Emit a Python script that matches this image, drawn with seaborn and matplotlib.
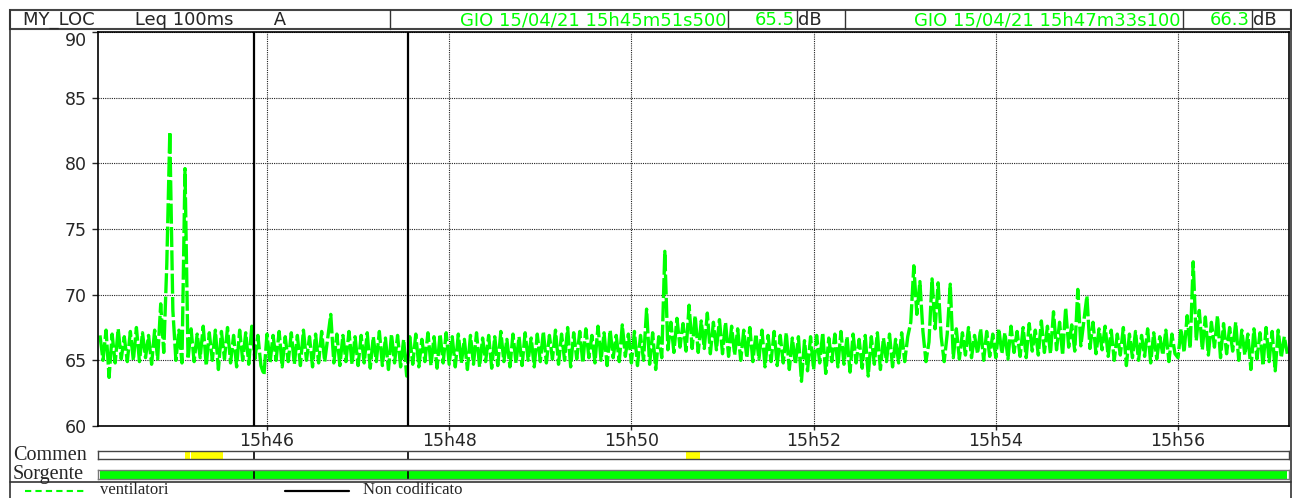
import pandas as pd
import seaborn as sns
import matplotlib.pyplot as plt
import matplotlib.dates as mdates
from matplotlib.patches import Rectangle

# --- Data: Leq 100ms A, one reading every 2 s from 15:44:10 ---
lvl_1544 = [66.9, 65.0, 67.3, 63.7, 67.0, 64.8, 67.4, 65.1, 66.8, 64.9, 67.2, 65.0, 67.5,
            64.9, 67.1, 65.2, 66.9, 64.7, 67.3, 65.1, 69.3, 65.6, 72.3, 82.4, 68.8]
lvl_1545 = [65.0, 67.3, 64.8, 79.6, 65.1, 67.4, 64.9, 67.0, 65.2, 67.6, 64.6, 67.1, 65.0, 67.3, 64.3,
            67.2, 65.1, 67.5, 64.8, 66.9, 64.5, 67.3, 65.0, 67.1, 64.7, 67.6, 65.1, 66.9, 64.6, 63.9]
lvl_1546 = [67.0, 64.8, 66.9, 65.0, 67.2, 64.5, 66.8, 64.9, 67.1, 64.7, 66.9, 64.6, 67.3, 65.0, 66.8,
            64.5, 67.0, 64.8, 67.2, 64.9, 66.7, 68.5, 64.8, 67.0, 64.6, 66.9, 64.9, 67.2, 64.7, 66.8]
lvl_1547 = [64.6, 66.9, 64.8, 67.1, 64.4, 66.8, 64.9, 67.2, 64.6, 66.7, 64.3, 67.0, 64.8, 66.9, 64.5,
            66.6, 63.8, 66.8, 64.7, 67.0, 64.5, 66.6, 64.9, 67.1, 64.6, 66.8, 64.4, 67.0, 64.8, 67.1]
lvl_1548 = [64.7, 66.8, 64.5, 67.0, 64.8, 66.6, 64.3, 66.9, 64.7, 67.1, 64.5, 66.7, 64.9, 66.9, 64.4,
            66.8, 64.6, 67.2, 64.9, 66.6, 64.5, 67.0, 64.8, 66.8, 64.6, 67.1, 65.0, 66.7, 64.5, 67.0]
lvl_1549 = [64.9, 67.2, 64.8, 66.9, 65.1, 67.3, 64.7, 67.0, 65.0, 67.5, 64.5, 67.1, 65.1, 67.2, 64.8,
            67.4, 65.2, 66.9, 64.8, 67.6, 65.0, 67.1, 64.6, 67.3, 65.2, 66.9, 64.9, 67.7, 65.3, 67.0]
lvl_1550 = [64.8, 67.2, 64.6, 66.9, 65.0, 68.9, 64.7, 67.1, 64.3, 66.8, 65.2, 73.3, 65.8, 67.9, 65.6,
            68.2, 66.0, 67.8, 65.7, 69.2, 65.9, 68.4, 65.6, 68.0, 65.9, 68.6, 65.5, 67.9, 65.8, 68.1]
lvl_1551 = [65.5, 67.9, 65.3, 67.6, 65.4, 67.4, 65.0, 67.3, 65.2, 67.5, 64.9, 67.0, 65.1, 67.3, 64.5,
            66.9, 64.9, 67.2, 64.6, 66.9, 64.8, 67.1, 64.3, 66.7, 64.7, 66.8, 63.4, 66.5, 64.2, 66.8]
lvl_1552 = [64.3, 66.9, 64.8, 67.1, 64.0, 66.7, 64.9, 67.0, 64.5, 67.2, 64.7, 66.8, 64.1, 67.0, 64.8,
            66.6, 64.4, 66.9, 63.8, 66.8, 64.7, 67.1, 64.3, 66.7, 64.9, 67.0, 64.5, 66.6, 64.8, 67.1]
lvl_1553 = [64.9, 66.8, 67.9, 72.2, 68.5, 71.0, 67.2, 64.9, 66.4, 71.2, 67.4, 70.9, 66.8, 64.9, 67.0,
            70.8, 65.2, 67.4, 65.1, 67.1, 65.4, 67.5, 65.2, 66.9, 65.5, 67.4, 65.0, 67.2, 65.3, 67.0]
lvl_1554 = [65.2, 67.4, 65.5, 67.1, 65.1, 67.6, 65.6, 67.2, 65.3, 67.5, 65.2, 67.8, 65.7, 67.3, 65.4,
            68.0, 65.6, 67.6, 65.5, 68.7, 65.8, 67.9, 65.4, 69.0, 66.0, 67.7, 65.7, 70.4, 66.1, 68.0]
lvl_1555 = [69.9, 65.9, 67.9, 65.5, 67.4, 65.8, 67.6, 65.3, 67.3, 65.0, 67.0, 65.4, 67.5, 64.6, 67.0,
            65.2, 67.2, 65.0, 66.9, 65.3, 67.4, 64.8, 67.1, 65.1, 66.8, 65.4, 67.3, 64.9, 67.0, 65.5]
lvl_1556 = [65.2, 67.4, 65.6, 68.4, 65.9, 72.5, 66.5, 68.8, 65.8, 68.3, 65.4, 67.9, 66.0, 68.4, 65.2,
            67.8, 65.5, 67.5, 65.7, 67.9, 65.0, 67.3, 65.4, 67.0, 64.3, 67.4, 65.1, 67.1, 64.6, 67.5]
lvl_1557 = [64.9, 67.2, 64.2, 67.3, 65.2, 66.8, 65.5]

START = "2021-04-15 15:44:10"
VIEW = ["2021-04-15 15:44:08.7", "2021-04-15 15:57:13.1"]
cursor_times = ["2021-04-15 15:45:51.5", "2021-04-15 15:47:33.1"]
cursor_labels = ["GIO 15/04/21 15h45m51s500", "GIO 15/04/21 15h47m33s100"]
cursor_levels = [65.5, 66.3]
comment_start = ["2021-04-15 15:45:06", "2021-04-15 15:45:10", "2021-04-15 15:50:36"]
comment_end = ["2021-04-15 15:45:09", "2021-04-15 15:45:31", "2021-04-15 15:50:45"]
y_ticks = [60, 65, 70, 75, 80, 85, 90]

GREEN = "#00ff00"
W, H = 1292, 498


def frac(x0, y0, x1, y1):
    # pixel box (top-left origin) -> figure fraction rect
    return [x0 / W, 1 - y1 / H, (x1 - x0) / W, (y1 - y0) / H]


level = (lvl_1544 + lvl_1545 + lvl_1546 + lvl_1547 + lvl_1548 + lvl_1549 + lvl_1550
         + lvl_1551 + lvl_1552 + lvl_1553 + lvl_1554 + lvl_1555 + lvl_1556 + lvl_1557)
times = mdates.date2num(pd.date_range(START, periods=len(level), freq="2s"))
df = pd.DataFrame({"t": times, "leq": level})
view = mdates.date2num(pd.to_datetime(VIEW))
cursors = mdates.date2num(pd.to_datetime(cursor_times))
c_start = mdates.date2num(pd.to_datetime(comment_start))
c_end = mdates.date2num(pd.to_datetime(comment_end))

sns.set_style("white")
plt.rcParams["font.family"] = ["DejaVu Sans"]
SERIF = "Liberation Serif"

fig = plt.figure(figsize=(W / 100, H / 100), dpi=100)

# background canvas in pixel coordinates for boxes and captions
bg = fig.add_axes([0, 0, 1, 1], zorder=-1)
bg.set_xlim(0, W)
bg.set_ylim(H, 0)
bg.axis("off")

# --- main trace ---
ax = fig.add_axes(frac(98, 32, 1289, 426))
sns.lineplot(data=df, x="t", y="leq", ax=ax, color=GREEN, lw=2.4,
             linestyle=(0, (6, 1)), estimator=None, sort=False, zorder=2)
ax.set_xlim(view)
ax.set_ylim(60, 90)
ax.set_yticks(y_ticks)
ax.set_yticklabels([str(v) for v in y_ticks])
for lab in ax.get_yticklabels():
    if lab.get_text() == "90":
        lab.set_va("top")
ax.xaxis.set_major_locator(mdates.MinuteLocator(byminute=range(0, 60, 2)))
ax.xaxis.set_major_formatter(mdates.DateFormatter("%Hh%M"))
ax.set_xlabel("")
ax.set_ylabel("")
ax.grid(True, color="#222222", linestyle=(0, (1, 1)), lw=0.8)
ax.tick_params(axis="y", direction="out", length=4, width=1, pad=4, labelsize=12.5, left=True)
ax.tick_params(axis="x", direction="out", length=3, width=1, pad=1.5, labelsize=12.5, bottom=True)
for s in ax.spines.values():
    s.set_color("black")
    s.set_linewidth(1.2)
for c in cursors:
    ax.axvline(c, color="black", lw=1.6, zorder=3)

# --- comment strip ---
ax_c = fig.add_axes(frac(98, 451, 1289, 459))
for a, b in zip(c_start, c_end):
    ax_c.axvspan(a, b, color="#ffff00", lw=0)
for c in cursors:
    ax_c.axvline(c, color="black", lw=1.2)
ax_c.set_xlim(view)
ax_c.set_xticks([])
ax_c.set_yticks([])
for s in ax_c.spines.values():
    s.set_color("#444444")
    s.set_linewidth(1)

# --- source strip ---
ax_s = fig.add_axes(frac(98, 470, 1289, 479))
ax_s.axvspan(times[0], times[-1], color=GREEN, lw=0)
for c in cursors:
    ax_s.axvline(c, color="black", lw=1.2)
ax_s.set_xlim(view)
ax_s.set_xticks([])
ax_s.set_yticks([])
for s in ax_s.spines.values():
    s.set_color("#777777")
    s.set_linewidth(1)

# --- header row ---
bg.add_patch(Rectangle((10, 10), 1281, 19, fill=False, ec="#444444", lw=1.5))
for x in [390, 728, 797, 845, 1183, 1252]:
    bg.plot([x, x], [10, 29], color="#333333", lw=1)
bg.text(23, 20, "MY_LOC       Leq 100ms       A", fontsize=13, va="center", ha="left")
bg.text(726, 20, cursor_labels[0], fontsize=13, va="center", ha="right", color=GREEN)
bg.text(795, 20, f"{cursor_levels[0]:.1f}", fontsize=13, va="center", ha="right", color=GREEN)
bg.text(798, 20, "dB", fontsize=13, va="center", ha="left")
bg.text(1181, 20, cursor_labels[1], fontsize=13, va="center", ha="right", color=GREEN)
bg.text(1250, 20, f"{cursor_levels[1]:.1f}", fontsize=13, va="center", ha="right", color=GREEN)
bg.text(1253, 20, "dB", fontsize=13, va="center", ha="left")

# outer frame and legend row
bg.plot([10, 10], [10, H], color="#333333", lw=1.2)
bg.plot([1291, 1291], [10, H], color="#333333", lw=1.2)
bg.plot([10, 1291], [482, 482], color="#333333", lw=1.2)
bg.text(13, 455, "Commen", family=SERIF, fontsize=14.5, va="center", ha="left")
bg.text(13, 474, "Sorgente", family=SERIF, fontsize=14.5, va="center", ha="left")
bg.plot([25, 87], [491, 491], color=GREEN, lw=1.5, linestyle=(0, (3, 2)))
bg.text(100, 489.5, "ventilatori", family=SERIF, fontsize=12, va="center", ha="left")
bg.plot([285, 349], [491, 491], color="black", lw=1.6)
bg.text(363, 489.5, "Non codificato", family=SERIF, fontsize=12, va="center", ha="left")

fig.savefig("out.png", dpi=100)
